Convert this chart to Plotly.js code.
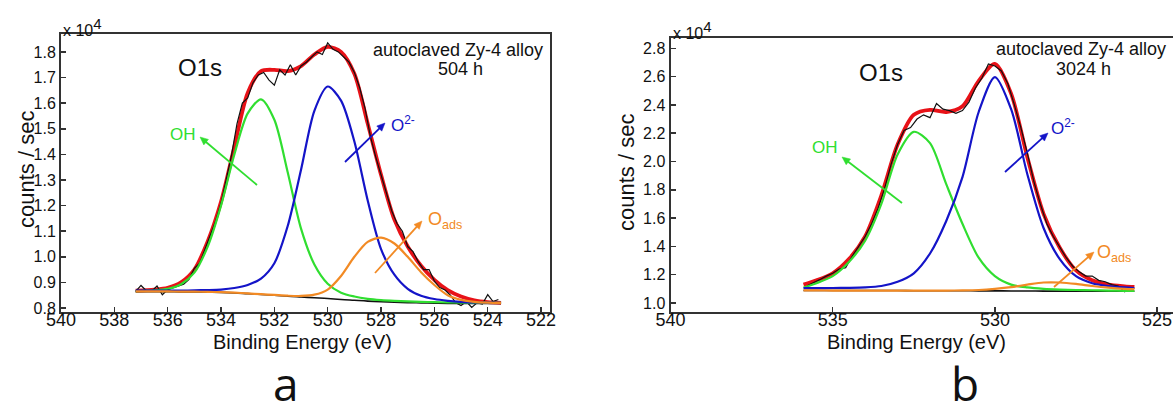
<!DOCTYPE html>
<html>
<head>
<meta charset="utf-8">
<script src="https://cdn.plot.ly/plotly-3.0.1.min.js"></script>
<style>html,body{margin:0;padding:0;background:#fff;}#chart{width:1173px;height:414px;}</style>
</head>
<body>
<div id="chart"></div>
<script>
// ---------------- Panel a : 504 h ----------------
const energyA = [537.2, 536.5, 536.0, 535.5, 535.0, 534.5, 534.0, 533.5, 533.0, 532.5, 532.0, 531.5, 531.0, 530.5, 530.0, 529.5, 529.0, 528.5, 528.0, 527.5, 527.0, 526.5, 526.0, 525.5, 525.0, 524.5, 524.0, 523.5];
const envelopeA = [0.868, 0.872, 0.879, 0.900, 0.950, 1.060, 1.215, 1.430, 1.640, 1.725, 1.730, 1.725, 1.745, 1.790, 1.820, 1.800, 1.715, 1.520, 1.320, 1.145, 1.040, 0.965, 0.910, 0.870, 0.845, 0.830, 0.823, 0.820];
const ohA = [0.866, 0.869, 0.875, 0.893, 0.938, 1.040, 1.200, 1.400, 1.560, 1.615, 1.535, 1.330, 1.110, 0.970, 0.895, 0.860, 0.845, 0.836, 0.831, 0.828, 0.826, 0.824, 0.823, 0.822, 0.821, 0.821, 0.820, 0.820];
const o2A = [0.868, 0.868, 0.868, 0.868, 0.869, 0.870, 0.872, 0.878, 0.890, 0.915, 0.975, 1.120, 1.340, 1.570, 1.665, 1.610, 1.450, 1.220, 1.030, 0.930, 0.875, 0.848, 0.835, 0.828, 0.824, 0.822, 0.821, 0.820];
const oadsA = [0.865, 0.865, 0.865, 0.864, 0.864, 0.863, 0.862, 0.860, 0.857, 0.854, 0.851, 0.848, 0.847, 0.852, 0.872, 0.925, 1.000, 1.058, 1.075, 1.052, 1.000, 0.940, 0.890, 0.850, 0.832, 0.824, 0.821, 0.820];
const bgA = [0.864, 0.864, 0.864, 0.863, 0.863, 0.862, 0.861, 0.859, 0.856, 0.853, 0.850, 0.846, 0.843, 0.840, 0.837, 0.833, 0.830, 0.827, 0.825, 0.823, 0.821, 0.820, 0.819, 0.818, 0.818, 0.818, 0.818, 0.818];
const rawEnergyA = [537.2, 537.0, 536.8, 536.6, 536.4, 536.2, 536.0, 535.8, 535.6, 535.4, 535.2, 535.0, 534.8, 534.6, 534.4, 534.2, 534.0, 533.8, 533.6, 533.4, 533.2, 533.0, 532.8, 532.6, 532.4, 532.2, 532.0, 531.8, 531.6, 531.4, 531.2, 531.0, 530.8, 530.6, 530.4, 530.2, 530.0, 529.8, 529.6, 529.4, 529.2, 529.0, 528.8, 528.6, 528.4, 528.2, 528.0, 527.8, 527.6, 527.4, 527.2, 527.0, 526.8, 526.6, 526.4, 526.2, 526.0, 525.8, 525.6, 525.4, 525.2, 525.0, 524.8, 524.6, 524.4, 524.2, 524.0, 523.8, 523.6];
const rawA = [0.865, 0.888, 0.868, 0.866, 0.886, 0.852, 0.872, 0.880, 0.888, 0.893, 0.912, 0.955, 0.975, 1.030, 1.080, 1.140, 1.210, 1.300, 1.400, 1.520, 1.600, 1.620, 1.680, 1.710, 1.720, 1.690, 1.670, 1.730, 1.710, 1.750, 1.710, 1.745, 1.760, 1.780, 1.800, 1.790, 1.835, 1.810, 1.800, 1.780, 1.760, 1.720, 1.660, 1.580, 1.470, 1.390, 1.320, 1.250, 1.180, 1.130, 1.100, 1.040, 1.020, 0.980, 0.950, 0.950, 0.905, 0.880, 0.870, 0.850, 0.820, 0.810, 0.825, 0.802, 0.820, 0.815, 0.852, 0.825, 0.833];
const xTicksA = [540, 538, 536, 534, 532, 530, 528, 526, 524, 522];
const yTicksA = [0.8, 0.9, 1.0, 1.1, 1.2, 1.3, 1.4, 1.5, 1.6, 1.7, 1.8];

// ---------------- Panel b : 3024 h ----------------
const energyB = [535.9, 535.5, 535.0, 534.5, 534.0, 533.5, 533.0, 532.5, 532.0, 531.5, 531.0, 530.5, 530.0, 529.5, 529.0, 528.5, 528.0, 527.5, 527.0, 526.5, 526.0, 525.7];
const envelopeB = [1.130, 1.160, 1.210, 1.310, 1.470, 1.760, 2.120, 2.330, 2.365, 2.350, 2.390, 2.570, 2.690, 2.480, 2.030, 1.630, 1.390, 1.230, 1.160, 1.130, 1.118, 1.113];
const ohB = [1.110, 1.140, 1.190, 1.290, 1.440, 1.700, 2.050, 2.210, 2.130, 1.840, 1.560, 1.320, 1.190, 1.130, 1.110, 1.100, 1.095, 1.092, 1.090, 1.088, 1.086, 1.085];
const o2B = [1.105, 1.105, 1.106, 1.107, 1.110, 1.120, 1.150, 1.210, 1.350, 1.580, 1.890, 2.350, 2.597, 2.370, 1.910, 1.530, 1.310, 1.190, 1.140, 1.120, 1.110, 1.106];
const oadsB = [1.089, 1.089, 1.088, 1.088, 1.088, 1.088, 1.088, 1.088, 1.088, 1.088, 1.089, 1.092, 1.100, 1.112, 1.130, 1.145, 1.145, 1.135, 1.120, 1.108, 1.100, 1.098];
const bgB = [1.088, 1.088, 1.088, 1.088, 1.088, 1.088, 1.088, 1.087, 1.087, 1.087, 1.087, 1.086, 1.086, 1.085, 1.085, 1.084, 1.084, 1.084, 1.083, 1.083, 1.083, 1.083];
const rawEnergyB = [535.8, 535.6, 535.4, 535.2, 535.0, 534.8, 534.6, 534.4, 534.2, 534.0, 533.8, 533.6, 533.4, 533.2, 533.0, 532.8, 532.6, 532.4, 532.2, 532.0, 531.8, 531.6, 531.4, 531.2, 531.0, 530.8, 530.6, 530.4, 530.2, 530.0, 529.8, 529.6, 529.4, 529.2, 529.0, 528.8, 528.6, 528.4, 528.2, 528.0, 527.8, 527.6, 527.4, 527.2, 527.0, 526.8, 526.6, 526.4, 526.2, 526.0, 525.8];
const rawB = [1.120, 1.140, 1.165, 1.190, 1.210, 1.240, 1.250, 1.330, 1.400, 1.470, 1.560, 1.670, 1.810, 1.980, 2.120, 2.220, 2.240, 2.300, 2.330, 2.310, 2.410, 2.370, 2.360, 2.340, 2.360, 2.420, 2.520, 2.590, 2.690, 2.675, 2.640, 2.550, 2.400, 2.240, 2.060, 1.860, 1.700, 1.560, 1.470, 1.390, 1.320, 1.260, 1.220, 1.190, 1.190, 1.160, 1.150, 1.130, 1.120, 1.080, 1.110];
const xTicksB = [540, 535, 530, 525];
const yTicksB = [1.0, 1.2, 1.4, 1.6, 1.8, 2.0, 2.2, 2.4, 2.6, 2.8];

// ---------------- text ----------------
const xTitle = 'Binding Energy (eV)';
const yTitle = 'counts / sec';
const scaleText = 'x 10<sup><span style="font-size:15px">4</span></sup>';
const regionText = 'O1s';
const sampleText = 'autoclaved Zy-4 alloy';
const timeA = '504 h', timeB = '3024 h';
const labelOH = 'OH', labelO2 = 'O<sup>2-</sup>', labelOads = 'O<sub>ads</sub>';
const panelLetters = ['a', 'b'];

// ---------------- styling ----------------
const W = 1173, H = 414;
const FONT = 'Liberation Sans, Arial, sans-serif';
const cRed = 'rgb(232,18,24)', cGreen = 'rgb(48,222,48)', cBlue = 'rgb(20,20,200)', cOrange = 'rgb(242,138,36)', cBlack = '#111';
const px = v => v / W, py = v => 1 - v / H;

function panelTraces(xa, ya, E, env, oh, o2, oads, bg, rE, raw) {
  const base = {xaxis: xa, yaxis: ya, mode: 'lines', hoverinfo: 'skip'};
  return [
    Object.assign({}, base, {x: E, y: env, line: {color: cRed, width: 3.8, shape: 'spline', smoothing: 0.8}}),
    Object.assign({}, base, {x: rE, y: raw, line: {color: cBlack, width: 1.2}}),
    Object.assign({}, base, {x: E, y: bg, line: {color: cBlack, width: 1.6, shape: 'spline'}}),
    Object.assign({}, base, {x: E, y: oh, line: {color: cGreen, width: 2.2, shape: 'spline', smoothing: 0.8}}),
    Object.assign({}, base, {x: E, y: o2, line: {color: cBlue, width: 2.2, shape: 'spline', smoothing: 0.8}}),
    Object.assign({}, base, {x: E, y: oads, line: {color: cOrange, width: 2.2, shape: 'spline', smoothing: 0.8}})
  ];
}

const data = [].concat(
  panelTraces('x', 'y', energyA, envelopeA, ohA, o2A, oadsA, bgA, rawEnergyA, rawA),
  panelTraces('x2', 'y2', energyB, envelopeB, ohB, o2B, oadsB, bgB, rawEnergyB, rawB)
);

const axisCommon = {
  showline: true, linewidth: 2, linecolor: '#333', mirror: true,
  ticks: 'inside', ticklen: 5, tickwidth: 1.5, tickcolor: '#333',
  showgrid: false, zeroline: false,
  tickfont: {family: FONT, size: 18, color: '#111'}
};

function ann(text, x, y, size, color, xanchor, angle) {
  return {text: text, x: px(x), y: py(y), xref: 'paper', yref: 'paper', showarrow: false,
    xanchor: xanchor || 'center', yanchor: 'middle', textangle: angle || 0,
    font: {family: FONT, size: size, color: color || '#111'}};
}
// arrow drawn as a line plus a filled triangular head (pixel geometry -> paper coords)
function arrowShapes(hx, hy, tx, ty, color) {
  const dx = hx - tx, dy = hy - ty, L = Math.hypot(dx, dy);
  const ux = dx / L, uy = dy / L, len = 8, half = 3.6;
  const bx = hx - ux * len, by = hy - uy * len;
  const p1 = [bx - uy * half, by + ux * half], p2 = [bx + uy * half, by - ux * half];
  const P = (x, y) => px(x) + ',' + py(y);
  return [
    {type: 'line', xref: 'paper', yref: 'paper', x0: px(tx), y0: py(ty), x1: px(bx + ux), y1: py(by + uy),
      line: {color: color, width: 1.8}},
    {type: 'path', xref: 'paper', yref: 'paper', path: 'M' + P(hx, hy) + ' L' + P(p1[0], p1[1]) + ' L' + P(p2[0], p2[1]) + ' Z',
      fillcolor: color, line: {color: color, width: 0.5}}
  ];
}

const annotations = [
  ann(scaleText, 61, 27, 16, '#111', 'left'),
  ann(scaleText, 671, 30, 16, '#111', 'left'),
  ann(regionText, 200, 67, 24),
  ann(regionText, 881, 72, 24),
  ann(sampleText, 458, 50, 18),
  ann(timeA, 460, 69, 18),
  ann(sampleText, 1081, 49, 18),
  ann(timeB, 1083, 69, 18),
  ann(labelOH, 183, 134, 17, cGreen),
  ann(labelO2, 389, 124, 17, cBlue, 'left'),
  ann(labelOads, 426, 220, 18, cOrange, 'left'),
  ann(labelOH, 825, 147, 17, cGreen),
  ann(labelO2, 1049, 127, 17, cBlue, 'left'),
  ann(labelOads, 1095, 253, 18, cOrange, 'left'),
  ann(xTitle, 302, 342, 20),
  ann(xTitle, 916, 342, 20),
  ann(yTitle, 26, 170, 22, '#111', 'center', -90),
  ann(yTitle, 626, 173, 22, '#111', 'center', -90),
  {text: panelLetters[0], x: px(286), y: py(383), xref: 'paper', yref: 'paper', showarrow: false, xanchor: 'center', yanchor: 'middle', font: {family: 'Open Sans, sans-serif', size: 46, color: '#111'}},
  {text: panelLetters[1], x: px(965), y: py(383), xref: 'paper', yref: 'paper', showarrow: false, xanchor: 'center', yanchor: 'middle', font: {family: 'Open Sans, sans-serif', size: 46, color: '#111'}}
];

const shapes = [].concat(
  arrowShapes(200, 137, 257, 185, cGreen),
  arrowShapes(385, 123, 345, 162, cBlue),
  arrowShapes(422, 221, 375, 273, cOrange),
  arrowShapes(842, 157, 902, 203, cGreen),
  arrowShapes(1048, 133, 1005, 172, cBlue),
  arrowShapes(1094, 252, 1054, 287, cOrange)
);

const layout = {
  width: W, height: H,
  margin: {l: 0, r: 0, t: 0, b: 0},
  paper_bgcolor: '#fff', plot_bgcolor: '#fff',
  showlegend: false,
  font: {family: FONT, color: '#111'},
  xaxis: Object.assign({}, axisCommon, {
    domain: [px(61), px(550)], range: [540, 521.665], anchor: 'y',
    tickvals: xTicksA, ticktext: xTicksA.map(String), ticklabelstandoff: -10
  }),
  yaxis: Object.assign({}, axisCommon, {
    domain: [1 - 312 / H, 1 - 34 / H], range: [0.7844, 1.870], anchor: 'x',
    tickvals: yTicksA, tickformat: '.1f', tickfont: {family: FONT, size: 16, color: '#111'}
  }),
  xaxis2: Object.assign({}, axisCommon, {
    domain: [px(670.5), 1], range: [540, 524.51], anchor: 'y2',
    tickvals: xTicksB, ticktext: xTicksB.map(String), ticklabelstandoff: -10
  }),
  yaxis2: Object.assign({}, axisCommon, {
    domain: [1 - 312 / H, 1 - 38 / H], range: [0.9364, 2.873], anchor: 'x2',
    tickvals: yTicksB, tickformat: '.1f', tickfont: {family: FONT, size: 16, color: '#111'}
  }),
  annotations: annotations,
  shapes: shapes
};

Plotly.newPlot('chart', data, layout, {staticPlot: true, displayModeBar: false});
</script>
</body>
</html>
